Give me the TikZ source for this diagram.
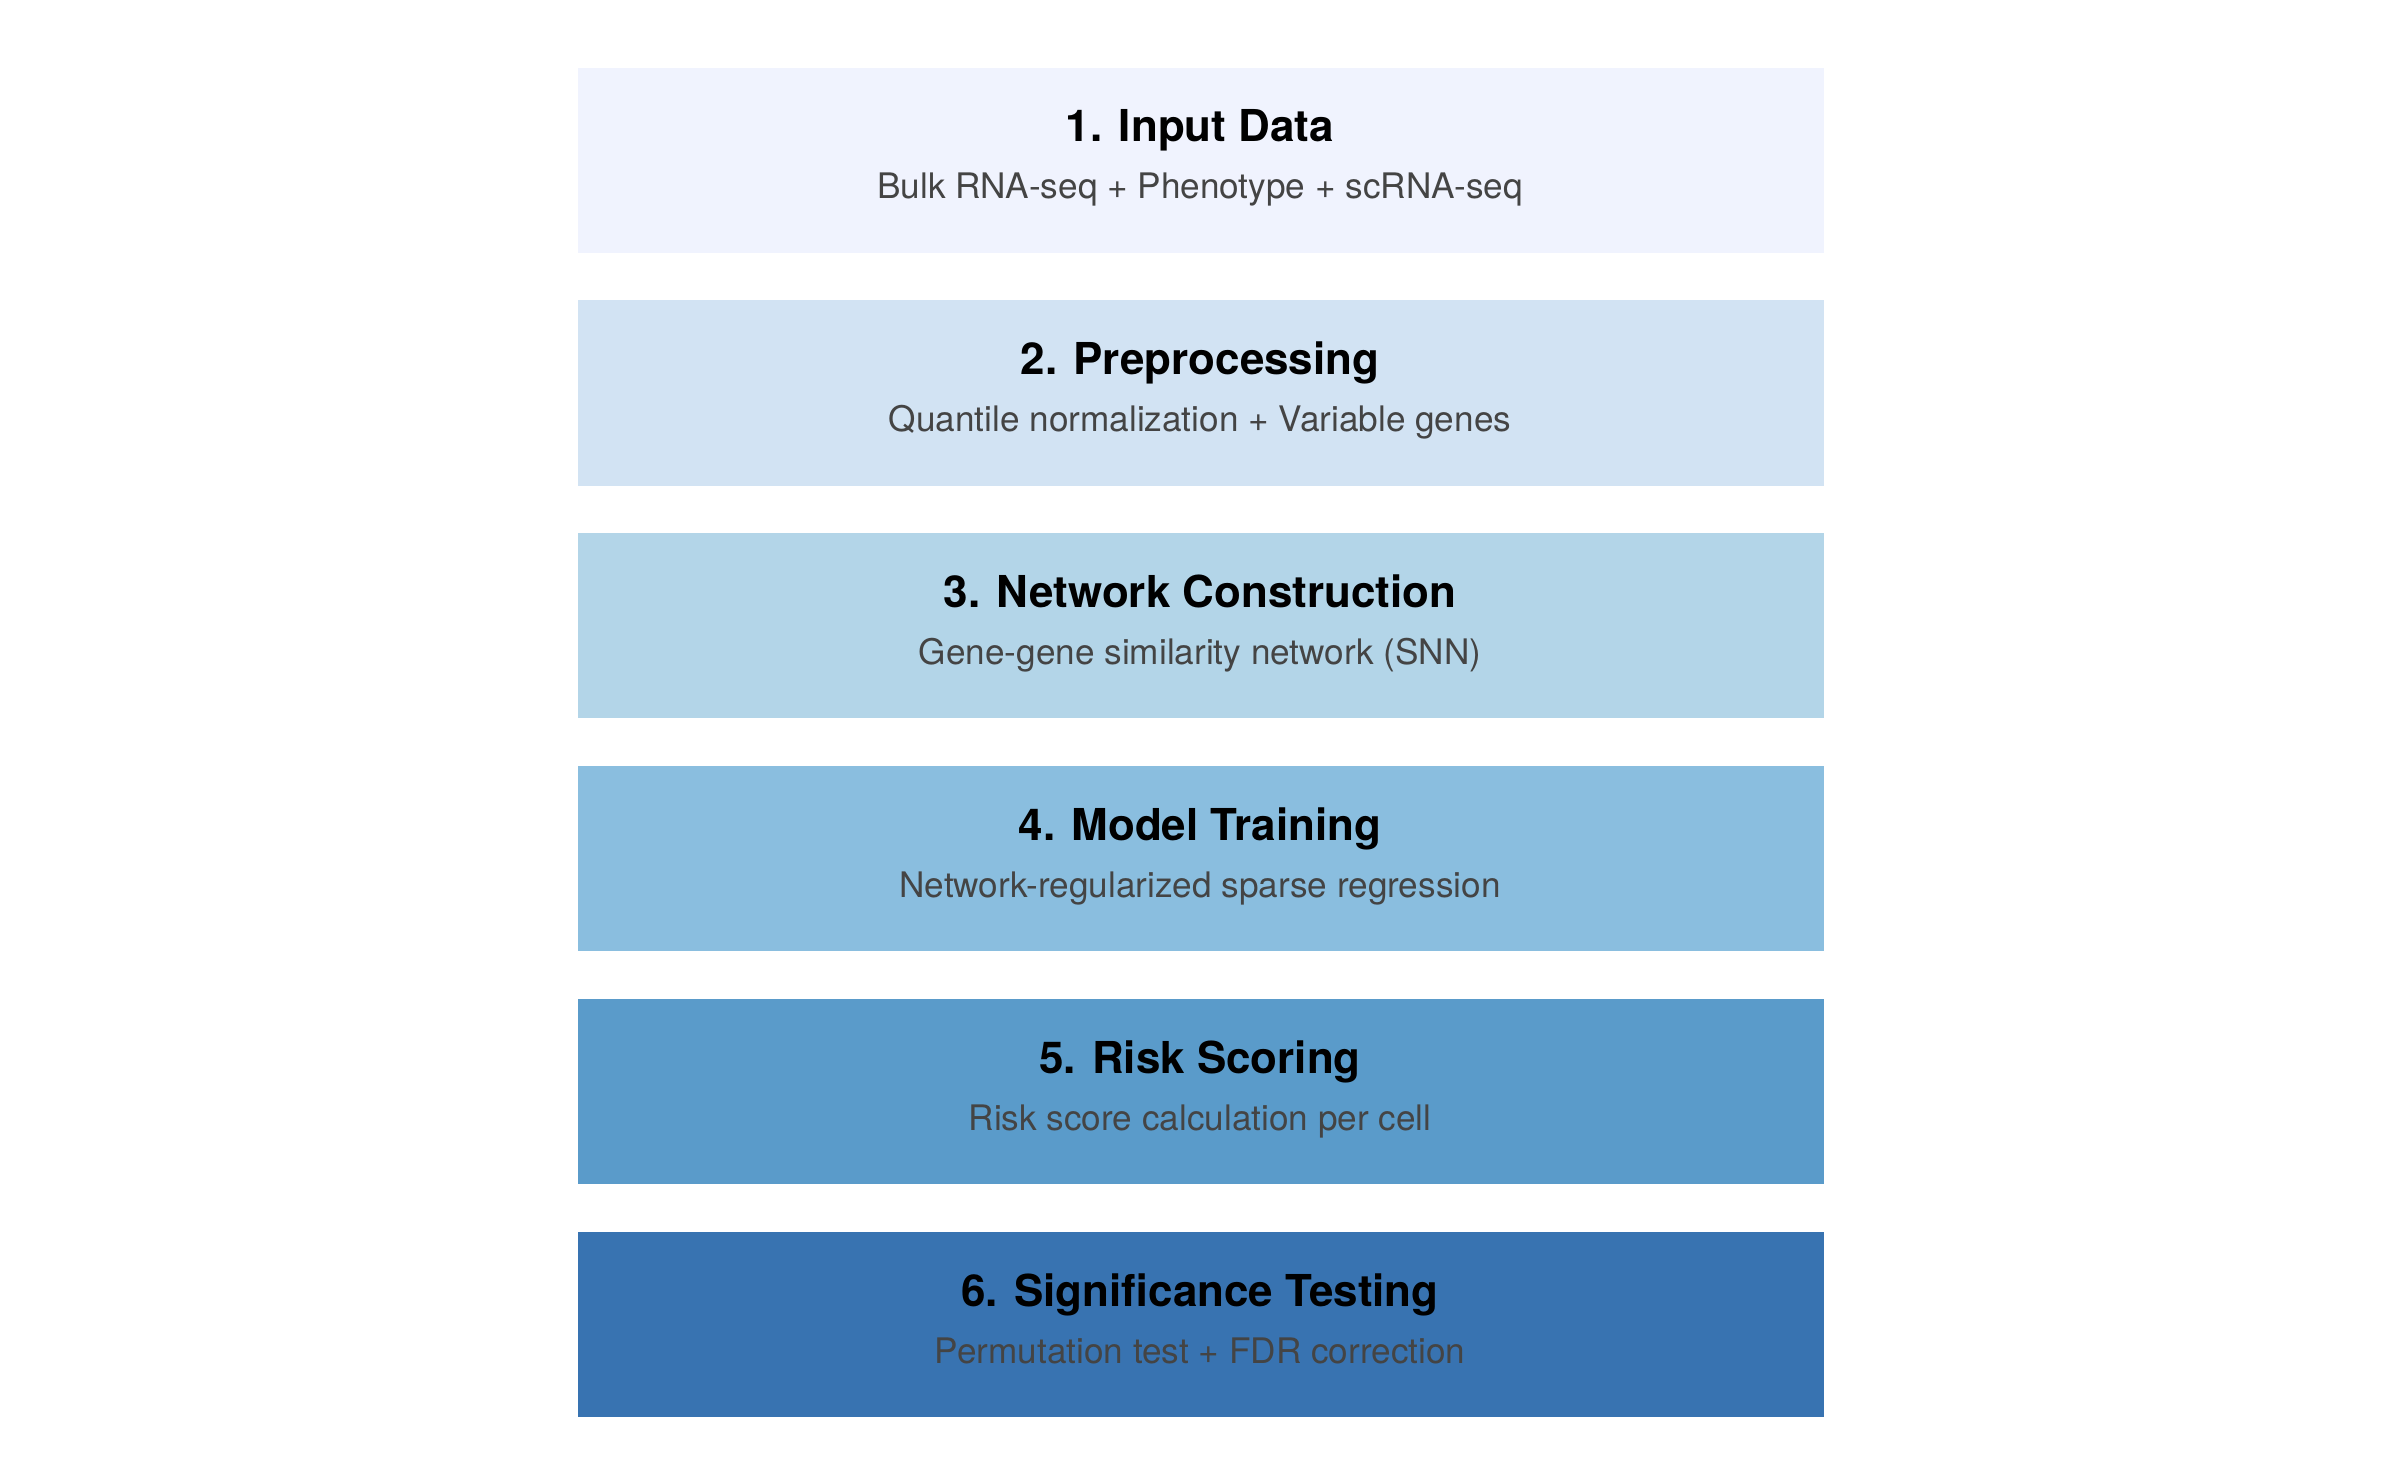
\documentclass[tikz,border=0pt]{standalone}
\usepackage{fontspec}
\setmainfont{TeX Gyre Heros}
\definecolor{c1}{HTML}{F0F3FE}
\definecolor{c2}{HTML}{D2E3F3}
\definecolor{c3}{HTML}{B3D5E8}
\definecolor{c4}{HTML}{8ABEDF}
\definecolor{c5}{HTML}{5A9BCA}
\definecolor{c6}{HTML}{3873B1}
\definecolor{subg}{HTML}{444444}
\tikzset{
 stepbox/.style={draw=none,minimum width=12.46cm,minimum height=1.85cm,inner sep=0pt},
 ttl/.style={font=\fontsize{12.5}{14}\selectfont\bfseries,anchor=base,text=black},
 sub/.style={font=\fontsize{10}{12}\selectfont,anchor=base,text=subg}
}
\begin{document}
\begin{tikzpicture}[x=0.01cm,y=-0.01cm]
\useasboundingbox (0,0) rectangle (2400,1483);
\foreach \i/\c/\t/\s in {0/c1/{1. Input Data}/{Bulk RNA-seq + Phenotype + scRNA-seq},
 1/c2/{2. Preprocessing}/{Quantile normalization + Variable genes},
 2/c3/{3. Network Construction}/{Gene-gene similarity network (SNN)},
 3/c4/{4. Model Training}/{Network-regularized sparse regression},
 4/c5/{5. Risk Scoring}/{Risk score calculation per cell},
 5/c6/{6. Significance Testing}/{Permutation test + FDR correction}}{
 \pgfmathsetmacro{\yy}{67+232.8*\i}
 \node[stepbox,fill=\c,anchor=north west] (b\i) at (577,\yy) {};
 \node[ttl] (t\i) at (1200,\yy+75) {\t};
 \node[sub] (s\i) at (1200,\yy+132) {\s};
}
\end{tikzpicture}
\end{document}
